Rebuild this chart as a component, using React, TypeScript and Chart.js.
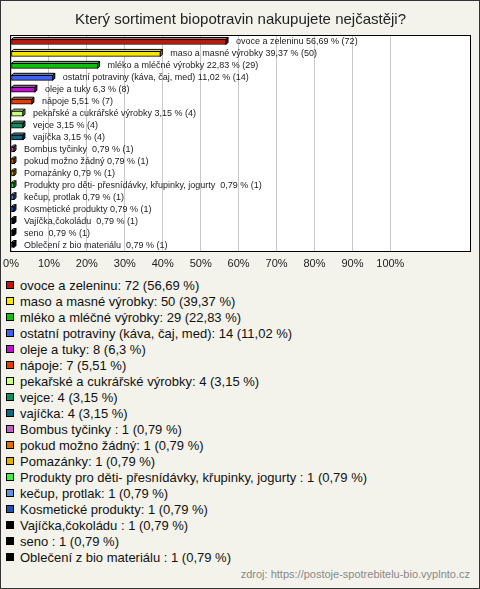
import React, { useEffect, useRef } from "react";
import { Chart, registerables } from "chart.js";

Chart.register(...registerables);

const title = "Který sortiment biopotravin nakupujete nejčastěji?";
const source = "zdroj: https://postoje-spotrebitelu-bio.vyplnto.cz";

const categories = [
  "ovoce a zeleninu",
  "maso a masné výrobky",
  "mléko a mléčné výrobky",
  "ostatní potraviny (káva, čaj, med)",
  "oleje a tuky",
  "nápoje",
  "pekařské a cukrářské výrobky",
  "vejce",
  "vajíčka",
  "Bombus tyčinky ",
  "pokud možno žádný",
  "Pomazánky",
  "Produkty pro děti- přesnídávky, křupinky, jogurty ",
  "kečup, protlak",
  "Kosmetické produkty",
  "Vajíčka,čokoládu ",
  "seno ",
  "Oblečení z bio materiálu ",
];

const counts = [72, 50, 29, 14, 8, 7, 4, 4, 4, 1, 1, 1, 1, 1, 1, 1, 1, 1];

const percents = [56.69, 39.37, 22.83, 11.02, 6.3, 5.51, 3.15, 3.15, 3.15, 0.79, 0.79, 0.79, 0.79, 0.79, 0.79, 0.79, 0.79, 0.79];

const colors = [
  "#c0180c",
  "#f8e800",
  "#10c010",
  "#4060f0",
  "#c010d0",
  "#e04008",
  "#c8ff80",
  "#109060",
  "#106880",
  "#c060c0",
  "#e07000",
  "#e0b000",
  "#40f040",
  "#6090e0",
  "#2050b0",
  "#000000",
  "#000000",
  "#000000",
];

const tickValues = [0, 10, 20, 30, 40, 50, 60, 70, 80, 90, 100];
const axisMax = 121;

const fmt = (p: number) => String(p).replace(".", ",");

function shade(hex: string, f: number): string {
  const n = parseInt(hex.slice(1), 16);
  let r = (n >> 16) & 255, g = (n >> 8) & 255, b = n & 255;
  if (f >= 0) {
    r = Math.round(r + (255 - r) * f);
    g = Math.round(g + (255 - g) * f);
    b = Math.round(b + (255 - b) * f);
  } else {
    r = Math.round(r * (1 + f));
    g = Math.round(g * (1 + f));
    b = Math.round(b * (1 + f));
  }
  return `rgb(${r},${g},${b})`;
}

const FONT = '"Liberation Sans", Arial, sans-serif';

const plotFrame = {
  id: "plotFrame",
  beforeDraw(chart: any) {
    const { ctx, chartArea: a } = chart;
    ctx.save();
    ctx.fillStyle = "#ffffff";
    ctx.fillRect(a.left, a.top, a.right - a.left, a.bottom - a.top);
    ctx.restore();
  },
  afterDraw(chart: any) {
    const { ctx, chartArea: a } = chart;
    ctx.save();
    ctx.strokeStyle = "#000";
    ctx.lineWidth = 1;
    ctx.strokeRect(a.left - 0.5, a.top - 0.5, a.right - a.left + 1, a.bottom - a.top + 1);
    ctx.restore();
  },
};

const DEPTH = 2;

const bars3d = {
  id: "bars3d",
  beforeDatasetsDraw(chart: any) {
    const { ctx } = chart;
    const meta = chart.getDatasetMeta(0);
    ctx.save();
    ctx.lineWidth = 1;
    ctx.strokeStyle = "#000";
    meta.data.forEach((el: any, i: number) => {
      const p = el.getProps(["x", "y", "base", "height"], true);
      const top = p.y - p.height / 2;
      const bottom = p.y + p.height / 2;
      const x0 = p.base;
      const x1 = p.x;
      const c = colors[i];
      ctx.beginPath();
      ctx.moveTo(x0, top);
      ctx.lineTo(x0 + DEPTH, top - DEPTH);
      ctx.lineTo(x1 + DEPTH, top - DEPTH);
      ctx.lineTo(x1, top);
      ctx.closePath();
      ctx.fillStyle = shade(c, 0.35);
      ctx.fill();
      ctx.stroke();
      ctx.beginPath();
      ctx.moveTo(x1, top);
      ctx.lineTo(x1 + DEPTH, top - DEPTH);
      ctx.lineTo(x1 + DEPTH, bottom - DEPTH);
      ctx.lineTo(x1, bottom);
      ctx.closePath();
      ctx.fillStyle = shade(c, -0.35);
      ctx.fill();
      ctx.stroke();
    });
    ctx.restore();
  },
  afterDatasetsDraw(chart: any) {
    const { ctx } = chart;
    const meta = chart.getDatasetMeta(0);
    ctx.save();
    ctx.font = `9px ${FONT}`;
    ctx.fillStyle = "#222";
    ctx.textBaseline = "middle";
    ctx.textAlign = "left";
    meta.data.forEach((el: any, i: number) => {
      const p = el.getProps(["x", "y"], true);
      const txt = `${categories[i]} ${fmt(percents[i])} % (${counts[i]})`;
      ctx.fillText(txt, p.x + 10, p.y);
    });
    ctx.restore();
  },
};

export default function App() {
  const ref = useRef<HTMLCanvasElement | null>(null);

  useEffect(() => {
    if (!ref.current) return;
    const chart = new Chart(ref.current, {
      type: "bar",
      data: {
        labels: categories,
        datasets: [
          {
            data: percents,
            backgroundColor: colors,
            borderColor: "#000",
            borderWidth: 1,
            borderSkipped: false,
            barThickness: 5,
          },
        ],
      },
      options: {
        indexAxis: "y",
        animation: false,
        responsive: false,
        events: [],
        layout: { padding: { left: 11, right: 10, top: 0, bottom: 0 } },
        plugins: {
          legend: { display: false },
          tooltip: { enabled: false },
          title: {
            display: true,
            text: title,
            color: "#222",
            font: { family: FONT, size: 15, weight: "normal" },
            padding: { top: 11, bottom: 7 },
          },
        },
        scales: {
          x: {
            type: "linear",
            min: 0,
            max: axisMax,
            afterBuildTicks(scale: any) {
              scale.ticks = tickValues.map((v) => ({ value: v }));
            },
            afterFit(scale: any) {
              scale.height = 24;
            },
            ticks: {
              padding: 1,
              color: "#222",
              font: { family: FONT, size: 11 },
              maxRotation: 0,
              autoSkip: false,
              callback: (v: any) => `${v}%`,
            },
            grid: {
              color: "#c8c8c8",
              lineWidth: 1,
              drawTicks: true,
              tickLength: 5,
              tickColor: "rgba(0,0,0,0)",
            },
            border: { display: false },
          },
          y: {
            type: "category",
            display: false,
          },
        },
      },
      plugins: [plotFrame, bars3d],
    });
    return () => chart.destroy();
  }, []);

  return (
    <div
      style={{
        position: "absolute",
        left: 0,
        top: 0,
        width: 480,
        height: 589,
        background: "#f3f3eb",
        boxShadow: "inset 0 0 0 1px #333",
        fontFamily: FONT,
        overflow: "hidden",
      }}
    >
      <canvas
        ref={ref}
        width={480}
        height={275}
        style={{ position: "absolute", left: 0, top: 0, width: 480, height: 275 }}
      />
      <div style={{ position: "absolute", left: 0, top: 277 }}>
        {categories.map((c, i) => (
          <div
            key={i}
            style={{
              height: 16,
              display: "flex",
              alignItems: "center",
              fontSize: 13,
              color: "#111",
              whiteSpace: "pre",
            }}
          >
            <span
              style={{
                display: "inline-block",
                marginLeft: 6,
                marginRight: 6,
                width: 6,
                height: 6,
                border: "1px solid #000",
                background: colors[i],
              }}
            />
            <span>{`${c}: ${counts[i]} (${fmt(percents[i])} %)`}</span>
          </div>
        ))}
      </div>
      <div
        style={{
          position: "absolute",
          right: 10,
          top: 568,
          fontSize: 11,
          color: "#888",
          whiteSpace: "pre",
        }}
      >
        {source}
      </div>
    </div>
  );
}
